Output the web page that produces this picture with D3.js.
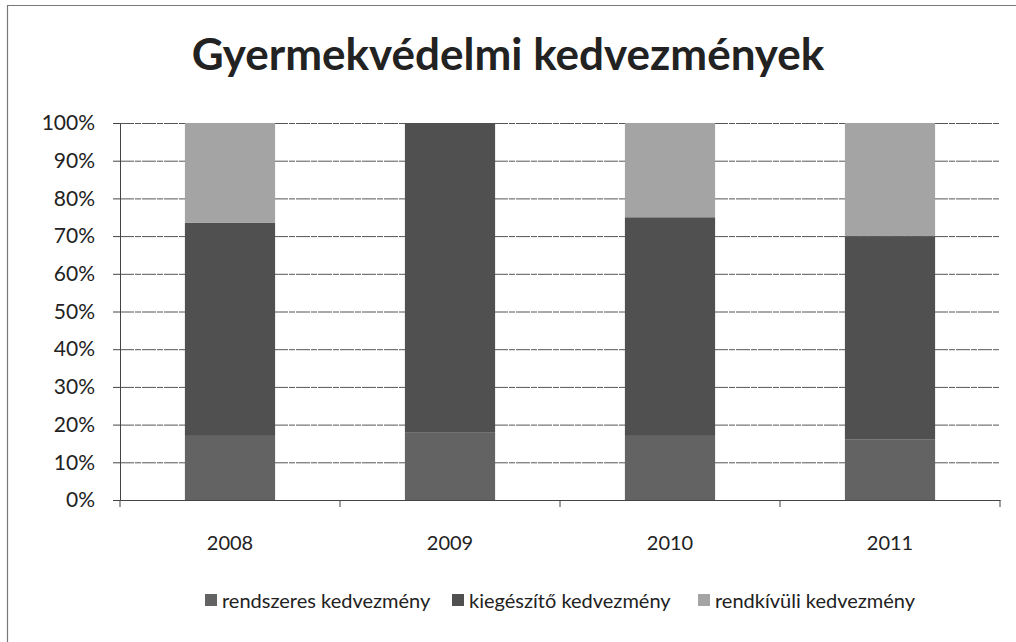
<!DOCTYPE html>
<html>
<head>
<meta charset="utf-8">
<script src="https://cdn.jsdelivr.net/npm/d3@7"></script>
<style>
  body { margin: 0; background: #fff; }
  text { font-family: Lato, "Open Sans", sans-serif; fill: #222; }
</style>
</head>
<body>
<svg id="chart" width="1016" height="642"></svg>
<script>
const years = ["2008", "2009", "2010", "2011"];
const seriesNames = ["rendszeres kedvezmény", "kiegészítő kedvezmény", "rendkívüli kedvezmény"];
const rendszeres = [17, 18, 17, 16];
const kiegeszito = [56.5, 82, 58, 54];
const rendkivuli = [26.5, 0, 25, 30];
const yTicks = [0, 10, 20, 30, 40, 50, 60, 70, 80, 90, 100];

const colours = ["#636363", "#505050", "#a4a4a4"];

const svg = d3.select('#chart');

// scanned frame: only left and top edges are visible
svg.append('path')
    .attr('d', 'M7.5,642 V5.5 H1016')
    .attr('fill', 'none')
    .attr('stroke', '#777')
    .attr('stroke-width', 1.2);

svg.append('text')
    .attr('x', 508)
    .attr('y', 70)
    .attr('text-anchor', 'middle')
    .attr('font-size', 44)
    .attr('font-weight', 'bold')
    .text('Gyermekvédelmi kedvezmények');

const plotLeft = 120, plotRight = 1000, plotTop = 123, plotBottom = 500;

const rows = years.map((y, i) => ({
    year: y,
    [seriesNames[0]]: rendszeres[i],
    [seriesNames[1]]: kiegeszito[i],
    [seriesNames[2]]: rendkivuli[i]
}));
const stacked = d3.stack().keys(seriesNames)(rows);

const xScale = d3.scaleBand()
    .domain(years)
    .range([plotLeft, plotRight])
    .paddingInner(0.59)
    .paddingOuter(0.295);

const yScale = d3.scaleLinear()
    .domain([0, 100])
    .range([plotBottom, plotTop]);

// gridlines
svg.append('g')
    .selectAll('line')
    .data(yTicks.filter(t => t > 0))
    .enter()
    .append('line')
    .attr('x1', plotLeft)
    .attr('x2', plotRight)
    .attr('y1', d => yScale(d) + 0.5)
    .attr('y2', d => yScale(d) + 0.5)
    .attr('stroke', '#555')
    .attr('stroke-width', 1)
    .attr('stroke-dasharray', '14,1,6,1');

// bars
svg.append('g')
    .selectAll('g')
    .data(stacked)
    .enter()
    .append('g')
    .attr('fill', (d, i) => colours[i])
    .selectAll('rect')
    .data(d => d)
    .enter()
    .append('rect')
    .attr('x', d => xScale(d.data.year))
    .attr('y', d => yScale(d[1]))
    .attr('height', d => yScale(d[0]) - yScale(d[1]))
    .attr('width', xScale.bandwidth());

// y axis
const yAxis = svg.append('g')
    .attr('transform', `translate(${plotLeft}, 0)`)
    .call(d3.axisLeft(yScale).tickValues(yTicks).tickSize(7).tickPadding(18).tickFormat(d => d + '%'));
yAxis.selectAll('text').attr('font-size', 21).attr('fill', '#222');
yAxis.selectAll('line, path').attr('stroke', '#444');

// x axis with ticks on band boundaries
const xAxis = svg.append('g')
    .attr('transform', `translate(0, ${plotBottom})`)
    .call(d3.axisBottom(xScale).tickSize(0).tickPadding(36));
xAxis.select('.domain').attr('stroke', '#444');
xAxis.selectAll('text').attr('font-size', 20).attr('fill', '#222');
const step = xScale.step();
xAxis.selectAll('.boundary')
    .data(d3.range(years.length + 1))
    .enter()
    .append('line')
    .attr('x1', i => plotLeft + i * step)
    .attr('x2', i => plotLeft + i * step)
    .attr('y1', 0)
    .attr('y2', 7)
    .attr('stroke', '#444');

// legend
const legendX = [205, 452, 698];
const legend = svg.append('g')
    .selectAll('g')
    .data(seriesNames)
    .enter()
    .append('g')
    .attr('transform', (d, i) => `translate(${legendX[i]}, 608)`);
legend.append('rect')
    .attr('x', 0)
    .attr('y', -14)
    .attr('width', 12)
    .attr('height', 12)
    .attr('fill', (d, i) => colours[i]);
legend.append('text')
    .attr('x', 17)
    .attr('y', 0)
    .attr('font-size', 20)
    .text(d => d);
</script>
</body>
</html>
